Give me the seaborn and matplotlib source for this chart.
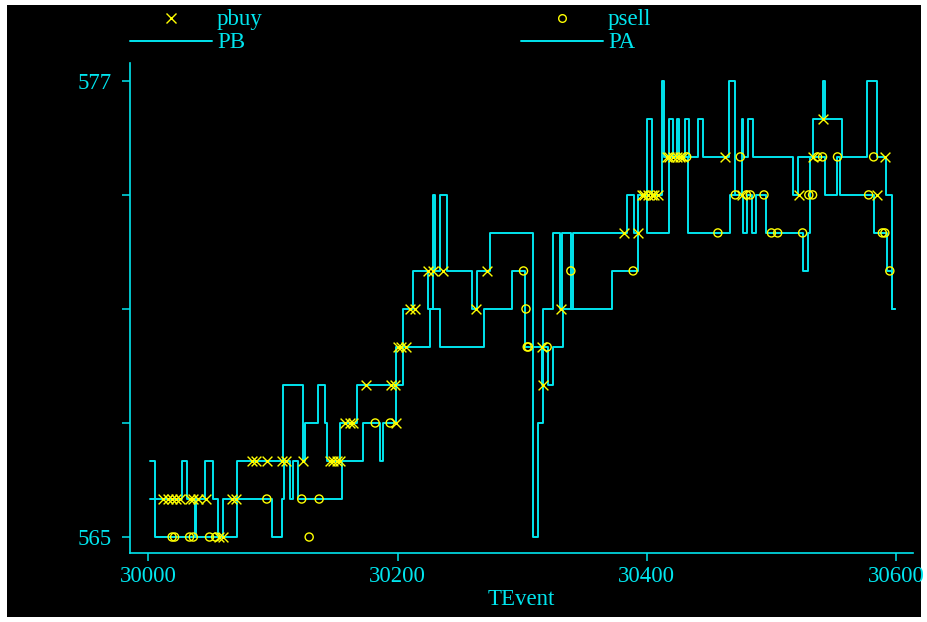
import matplotlib
matplotlib.use("Agg")
import matplotlib.pyplot as plt
import seaborn as sns
from matplotlib.patches import Rectangle
from matplotlib.lines import Line2D

# ---- data ----
pa_t = [30001, 30005, 30027, 30031, 30037, 30038, 30045, 30052, 30056, 30060, 30071, 30108,
        30124, 30126, 30136, 30142, 30143, 30154, 30167, 30199, 30204, 30212, 30224, 30228,
        30230, 30234, 30240, 30260, 30264, 30274, 30309, 30313, 30317, 30325, 30330, 30332,
        30339, 30341, 30384, 30390, 30393, 30400, 30404, 30412, 30414, 30418, 30421, 30424,
        30426, 30431, 30434, 30441, 30445, 30466, 30471, 30476, 30477, 30481, 30485, 30517,
        30521, 30533, 30541, 30543, 30557, 30577, 30585, 30592, 30597, 30599]
pa_v = [567, 566, 567, 566, 565, 566, 567, 566, 565, 566, 567, 569,
        567, 568, 569, 568, 567, 568, 569, 570, 571, 572, 571, 574,
        572, 574, 572, 571, 572, 573, 565, 568, 571, 573, 571, 573,
        571, 573, 574, 573, 574, 576, 574, 577, 575, 576, 575, 576,
        575, 576, 575, 576, 575, 577, 574, 576, 575, 576, 575, 574,
        575, 576, 577, 576, 575, 577, 575, 574, 571, 571]

pb_t = [30001, 30005, 30071, 30099, 30107, 30109, 30114, 30116, 30120, 30155, 30172, 30186,
        30188, 30199, 30204, 30226, 30234, 30269, 30292, 30302, 30316, 30317, 30321, 30325,
        30333, 30372, 30393, 30400, 30418, 30433, 30467, 30477, 30480, 30484, 30488, 30496,
        30525, 30529, 30531, 30543, 30553, 30555, 30582, 30593, 30597, 30599]
pb_v = [566, 565, 566, 565, 566, 567, 566, 567, 566, 567, 568, 567,
        568, 569, 570, 571, 570, 571, 572, 570, 569, 570, 569, 570,
        571, 572, 574, 573, 575, 573, 574, 573, 574, 573, 574, 573,
        572, 573, 575, 574, 575, 574, 573, 572, 571, 571]

pbuy_t = [30012, 30016, 30019, 30022, 30025, 30033, 30036, 30040, 30046, 30057, 30060,
          30067, 30070, 30083, 30086, 30095, 30107, 30110, 30124, 30146, 30148, 30151, 30154,
          30158, 30162, 30164, 30199, 30175, 30195, 30198, 30200, 30203, 30207, 30210, 30214,
          30224, 30228, 30236, 30263, 30272, 30316, 30317, 30331, 30382, 30393,
          30396, 30398, 30401, 30404, 30406, 30409, 30416, 30418, 30421, 30424, 30427, 30429,
          30463, 30476, 30522, 30541, 30533, 30585, 30591]
pbuy_v = [566, 566, 566, 566, 566, 566, 566, 566, 566, 565, 565,
          566, 566, 567, 567, 567, 567, 567, 567, 567, 567, 567, 567,
          568, 568, 568, 568, 569, 569, 569, 570, 570, 570, 571, 571,
          572, 572, 572, 571, 572, 570, 569, 571, 573, 573,
          574, 574, 574, 574, 574, 574, 575, 575, 575, 575, 575, 575,
          575, 574, 574, 576, 575, 574, 575]

psell_t = [30019, 30021, 30033, 30036, 30049, 30054, 30095, 30123, 30137, 30129,
           30182, 30194, 30301, 30303, 30304, 30305, 30320, 30339, 30389, 30432,
           30457, 30475, 30471, 30480, 30483, 30494, 30500, 30505, 30525, 30530,
           30533, 30537, 30541, 30553, 30578, 30582, 30589, 30591, 30595]
psell_v = [565, 565, 565, 565, 565, 565, 566, 566, 566, 565,
           568, 568, 572, 571, 570, 570, 570, 572, 572, 575,
           573, 575, 574, 574, 574, 574, 573, 573, 573, 574,
           574, 575, 575, 575, 574, 575, 573, 573, 572]

x_ticks = [30000, 30200, 30400, 30600]
y_ticks = [565, 568, 571, 574, 577]
y_tick_labels = ["565", "", "", "", "577"]

CY = "#00E5EE"
YEL = "#FFFF00"
FS = 16.5

sns.set_style("ticks")
plt.rcParams["font.family"] = ["Liberation Serif", "DejaVu Serif"]

fig = plt.figure(figsize=(9.28, 6.22), dpi=100, facecolor="white")
fig.patches.append(Rectangle((7 / 928, 5 / 622), 914 / 928, 612 / 622,
                             transform=fig.transFigure, facecolor="black",
                             edgecolor="none", zorder=-10))
ax = fig.add_axes([130 / 928, 69 / 622, 783 / 928, 490 / 622])
ax.set_facecolor("black")

sns.lineplot(x=pb_t, y=pb_v, ax=ax, color=CY, drawstyle="steps-post",
             estimator=None, sort=False, linewidth=1.4)
sns.lineplot(x=pa_t, y=pa_v, ax=ax, color=CY, drawstyle="steps-post",
             estimator=None, sort=False, linewidth=1.4)
sns.scatterplot(x=pbuy_t, y=pbuy_v, ax=ax, marker="x", color=YEL, s=50,
                linewidth=1.0, zorder=5)
sns.scatterplot(x=psell_t, y=psell_v, ax=ax, marker="o", color=YEL, s=34,
                linewidth=1.0, zorder=5)
coll = ax.collections[-1]
coll.set_facecolor("none")
coll.set_edgecolor(YEL)

ax.set_xlim(29985.2, 30613.6)
ax.set_ylim(564.58, 577.47)
ax.set_xticks(x_ticks)
ax.set_xticklabels([str(v) for v in x_ticks])
ax.set_yticks(y_ticks)
ax.set_yticklabels(y_tick_labels)
ax.tick_params(axis="both", colors=CY, labelcolor=CY, length=6, width=1.1,
               direction="out", labelsize=FS)
ax.tick_params(axis="y", pad=7)
ax.tick_params(axis="x", pad=3)
for s in ["top", "right"]:
    ax.spines[s].set_visible(False)
for s in ["left", "bottom"]:
    ax.spines[s].set_color(CY)
    ax.spines[s].set_linewidth(1.2)
ax.grid(False)
ax.set_xlabel("TEvent", color=CY, fontsize=FS, labelpad=2)
ax.set_ylabel("")

# legend drawn in figure coordinates
def fx(px):
    return px / 928

def fy(py):
    return 1 - py / 622

fig.add_artist(Line2D([fx(171)], [fy(18)], marker="x", color=YEL, markersize=7,
                      markeredgewidth=1.0, linestyle="none", transform=fig.transFigure))
fig.add_artist(Line2D([fx(562)], [fy(18)], marker="o", markerfacecolor="none",
                      markeredgecolor=YEL, markersize=5.5, markeredgewidth=1.0,
                      linestyle="none", transform=fig.transFigure))
fig.add_artist(Line2D([fx(130), fx(212)], [fy(41), fy(41)], color=CY, linewidth=1.4,
                      transform=fig.transFigure))
fig.add_artist(Line2D([fx(521), fx(603)], [fy(41), fy(41)], color=CY, linewidth=1.4,
                      transform=fig.transFigure))
for lbl, px, py in [("pbuy", 217, 19), ("PB", 217, 42), ("psell", 608, 19), ("PA", 608, 42)]:
    fig.text(fx(px), fy(py), lbl, color=CY, fontsize=FS, va="center", ha="left")

fig.savefig("out.png", dpi=100, facecolor="white")
